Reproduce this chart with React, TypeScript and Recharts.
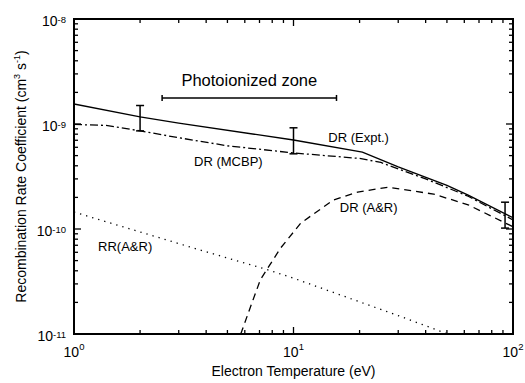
import {
  ComposedChart,
  Line,
  Scatter,
  ErrorBar,
  XAxis,
  YAxis,
  ReferenceDot,
} from "recharts";

// electron temperature (eV) vs rate coefficient (cm^3 s^-1)
const X_TICKS = [1, 2, 3, 4, 5, 6, 7, 8, 9, 10, 20, 30, 40, 50, 60, 70, 80, 90, 100];
const Y_TICKS = [
  1e-11, 2e-11, 3e-11, 4e-11, 5e-11, 6e-11, 7e-11, 8e-11, 9e-11,
  1e-10, 2e-10, 3e-10, 4e-10, 5e-10, 6e-10, 7e-10, 8e-10, 9e-10,
  1e-9, 2e-9, 3e-9, 4e-9, 5e-9, 6e-9, 7e-9, 8e-9, 9e-9, 1e-8,
];
const X_MAJOR = [1, 10, 100];
const Y_MAJOR = [1e-11, 1e-10, 1e-9, 1e-8];
const X_DOMAIN = [1, 100];
const Y_DOMAIN = [1e-11, 1e-8];

const DR_EXPT = [
  { t: 1, rate: 1.55e-9 },
  { t: 2, rate: 1.17e-9 },
  { t: 3, rate: 1.02e-9 },
  { t: 10, rate: 7.05e-10 },
  { t: 20.6, rate: 5.4e-10 },
  { t: 30, rate: 3.9e-10 },
  { t: 50, rate: 2.6e-10 },
  { t: 62.5, rate: 2.1e-10 },
  { t: 100, rate: 1.28e-10 },
];

const DR_MCBP = [
  { t: 1, rate: 9.9e-10 },
  { t: 1.4, rate: 9.7e-10 },
  { t: 2, rate: 8.6e-10 },
  { t: 3, rate: 7.4e-10 },
  { t: 5, rate: 6.2e-10 },
  { t: 10, rate: 5.3e-10 },
  { t: 20, rate: 4.7e-10 },
  { t: 25, rate: 4.3e-10 },
  { t: 40, rate: 3.0e-10 },
  { t: 62.5, rate: 2.05e-10 },
  { t: 100, rate: 1.22e-10 },
];

const DR_AR = [
  { t: 5.75, rate: 1.0e-11 },
  { t: 6.36, rate: 1.8e-11 },
  { t: 7.07, rate: 3.3e-11 },
  { t: 8.74, rate: 6.6e-11 },
  { t: 10.8, rate: 1.14e-10 },
  { t: 15.2, rate: 1.89e-10 },
  { t: 19.6, rate: 2.25e-10 },
  { t: 26.9, rate: 2.5e-10 },
  { t: 43.5, rate: 2.15e-10 },
  { t: 62.5, rate: 1.7e-10 },
  { t: 100, rate: 1.05e-10 },
];

const RR_AR = [
  { t: 1, rate: 1.45e-10 },
  { t: 3.76, rate: 6.3e-11 },
  { t: 7.6, rate: 4.1e-11 },
  { t: 10, rate: 3.4e-11 },
  { t: 29.9, rate: 1.5e-11 },
  { t: 50.5, rate: 1.0e-11 },
];

// measured error bars
const ERR_T = [2, 10, 92];
const ERR_LO = [8.6e-10, 5.2e-10, 1.02e-10];
const ERR_HI = [1.5e-9, 9.2e-10, 1.8e-10];

// photoionized zone range
const ZONE_FROM = 2.52;
const ZONE_TO = 15.7;
const ZONE_RATE = 1.77e-9;

const LABELS = [
  { text: "DR (Expt.)", t: 19.8, rate: 7.5e-10 },
  { text: "DR (MCBP)", t: 5.05, rate: 4.45e-10 },
  { text: "DR (A&R)", t: 22, rate: 1.62e-10 },
  { text: "RR(A&R)", t: 1.71, rate: 6.9e-11 },
];

const FONT = "'Liberation Sans', Arial, sans-serif";

// chart layout
const W = 525;
const H = 383;
const MARGIN = { top: 19, right: 12, bottom: 0, left: 0 };
const Y_AXIS_W = 74;
const X_AXIS_H = 49;
const PLOT = {
  x: MARGIN.left + Y_AXIS_W,
  y: MARGIN.top,
  w: W - MARGIN.left - MARGIN.right - Y_AXIS_W,
  h: H - MARGIN.top - MARGIN.bottom - X_AXIS_H,
};

const errData = ERR_T.map((t, i) => {
  const mid = Math.sqrt(ERR_LO[i] * ERR_HI[i]);
  return { t, rate: mid, err: [mid - ERR_LO[i], ERR_HI[i] - mid] };
});

const zoneMid = Math.sqrt(ZONE_FROM * ZONE_TO);
const zoneData = [
  { t: zoneMid, rate: ZONE_RATE, errX: [zoneMid - ZONE_FROM, ZONE_TO - zoneMid] },
];

// tick marks on all four sides, placed on the data scales
const tickData = [
  ...X_TICKS.map((t) => ({ t, rate: Y_DOMAIN[0], v: t, side: "bottom" })),
  ...X_TICKS.map((t) => ({ t, rate: Y_DOMAIN[1], v: t, side: "top" })),
  ...Y_TICKS.map((r) => ({ t: X_DOMAIN[0], rate: r, v: r, side: "left" })),
  ...Y_TICKS.map((r) => ({ t: X_DOMAIN[1], rate: r, v: r, side: "right" })),
];

const isDecade = (v: number) => {
  const l = Math.log10(v);
  return Math.abs(l - Math.round(l)) < 1e-6;
};

function TickMark(props: any) {
  const { cx, cy, payload } = props;
  if (cx == null || cy == null || !payload) return <g />;
  const len = isDecade(payload.v) ? 7 : 4;
  let d = "";
  if (payload.side === "bottom") d = `M${cx},${cy}v${-len}`;
  if (payload.side === "top") d = `M${cx},${cy}v${len}`;
  if (payload.side === "left") d = `M${cx},${cy}h${len}`;
  if (payload.side === "right") d = `M${cx},${cy}h${-len}`;
  return <path d={d} stroke="#000" strokeWidth={1.3} fill="none" />;
}

function XTick(props: any) {
  const { x, y, payload } = props;
  return (
    <text x={x} y={y + 23} textAnchor="middle" fontSize={14} fontFamily={FONT} fill="#000">
      10
      <tspan dy={-7} fontSize={9.5}>
        {Math.round(Math.log10(payload.value))}
      </tspan>
    </text>
  );
}

function YTick(props: any) {
  const { x, y, payload } = props;
  return (
    <text x={x - 8} y={y + 7} textAnchor="end" fontSize={14} fontFamily={FONT} fill="#000">
      10
      <tspan dy={-3} fontSize={9.5}>
        {Math.round(Math.log10(payload.value))}
      </tspan>
    </text>
  );
}

function XTitle({ viewBox }: any) {
  return (
    <text
      x={viewBox.x + viewBox.width / 2}
      y={viewBox.y + 42}
      textAnchor="middle"
      fontSize={14}
      fontFamily={FONT}
      fill="#000"
    >
      Electron Temperature (eV)
    </text>
  );
}

function YTitle({ viewBox }: any) {
  const cx = viewBox.x + 26;
  const cy = viewBox.y + viewBox.height / 2;
  return (
    <text
      x={cx}
      y={cy}
      transform={`rotate(-90, ${cx}, ${cy})`}
      textAnchor="middle"
      fontSize={14}
      fontFamily={FONT}
      fill="#000"
    >
      Recombination Rate Coefficient (cm
      <tspan dy={-6} fontSize={9}>3</tspan>
      <tspan dy={6}> s</tspan>
      <tspan dy={-6} fontSize={9}>-1</tspan>
      <tspan dy={6}>)</tspan>
    </text>
  );
}

export default function App() {
  return (
    <div style={{ position: "absolute", left: 0, top: 0, width: W, height: H, background: "#fff" }}>
      <ComposedChart width={W} height={H} margin={MARGIN}>
        <XAxis
          dataKey="t"
          type="number"
          scale="log"
          domain={X_DOMAIN}
          allowDataOverflow
          ticks={X_MAJOR}
          interval={0}
          height={X_AXIS_H}
          tickSize={0}
          tickMargin={0}
          tickLine={false}
          axisLine={false}
          tick={<XTick />}
          label={{ content: XTitle }}
        />
        <YAxis
          type="number"
          scale="log"
          domain={Y_DOMAIN}
          allowDataOverflow
          ticks={Y_MAJOR}
          interval={0}
          width={Y_AXIS_W}
          tickSize={0}
          tickMargin={0}
          tickLine={false}
          axisLine={false}
          tick={<YTick />}
          label={{ content: YTitle }}
        />

        <Line
          data={RR_AR}
          dataKey="rate"
          stroke="#000"
          strokeWidth={1.3}
          strokeDasharray="1.3 5"
          dot={false}
          isAnimationActive={false}
        />
        <Line
          data={DR_AR}
          dataKey="rate"
          stroke="#000"
          strokeWidth={1.3}
          strokeDasharray="7 5"
          dot={false}
          isAnimationActive={false}
        />
        <Line
          data={DR_MCBP}
          dataKey="rate"
          stroke="#000"
          strokeWidth={1.3}
          strokeDasharray="8 3 2 3"
          dot={false}
          isAnimationActive={false}
        />
        <Line
          data={DR_EXPT}
          dataKey="rate"
          stroke="#000"
          strokeWidth={1.4}
          dot={false}
          isAnimationActive={false}
        />
        <Scatter
          data={tickData}
          dataKey="rate"
          shape={TickMark}
          isAnimationActive={false}
        />

        <Scatter
          data={errData}
          dataKey="rate"
          shape={() => <g />}
          isAnimationActive={false}
        >
          <ErrorBar dataKey="err" direction="y" width={4} stroke="#000" strokeWidth={1.5} />
        </Scatter>
        <Scatter
          data={zoneData}
          dataKey="rate"
          shape={() => <g />}
          isAnimationActive={false}
        >
          <ErrorBar dataKey="errX" direction="x" width={3} stroke="#000" strokeWidth={1.5} />
        </Scatter>

        {LABELS.map((l) => (
          <ReferenceDot
            key={l.text}
            x={l.t}
            y={l.rate}
            r={0}
            fill="none"
            stroke="none"
            label={{ value: l.text, position: "center", fontSize: 13, fill: "#000", fontFamily: FONT }}
          />
        ))}
        <ReferenceDot
          x={zoneMid}
          y={2.62e-9}
          r={0}
          fill="none"
          stroke="none"
          label={{ value: "Photoionized zone", position: "center", fontSize: 16.5, fill: "#000", fontFamily: FONT }}
        />

        {/* plot frame */}
        <rect
          x={PLOT.x}
          y={PLOT.y}
          width={PLOT.w}
          height={PLOT.h}
          fill="none"
          stroke="#000"
          strokeWidth={2}
        />
      </ComposedChart>
    </div>
  );
}
